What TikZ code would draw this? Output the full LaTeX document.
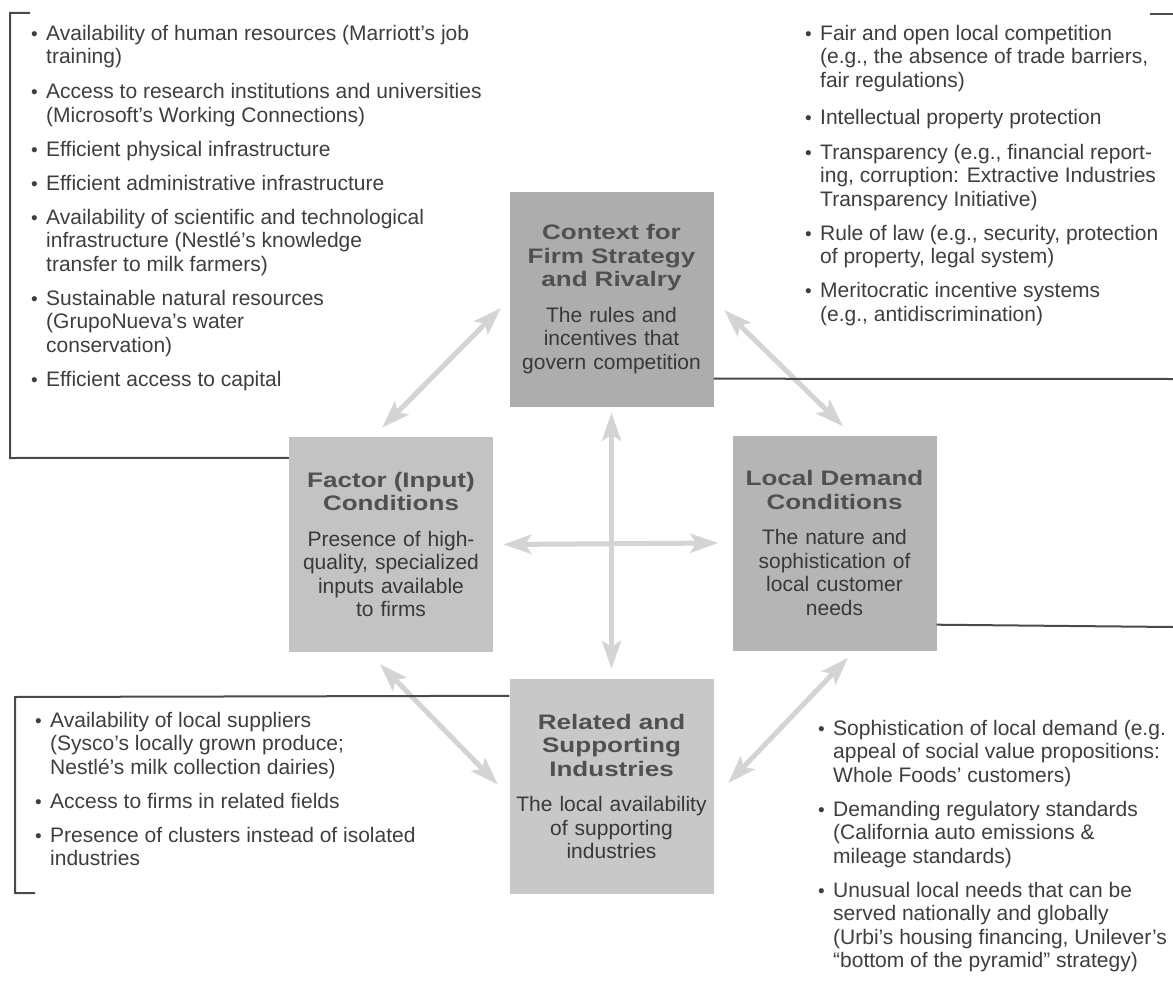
\documentclass[tikz,border=0pt]{standalone}
\usepackage{fontspec}
\setmainfont{Liberation Sans}
\newfontfamily\titlefont[FakeStretch=1.24]{Liberation Sans Bold}
\usetikzlibrary{arrows.meta}
\definecolor{brk}{HTML}{4A4A4A}
\definecolor{arrowgray}{HTML}{D4D4D4}
\definecolor{ctxfill}{HTML}{ADADAD}
\definecolor{facfill}{HTML}{C3C3C3}
\definecolor{locfill}{HTML}{B5B5B5}
\definecolor{relfill}{HTML}{C8C8C8}
\definecolor{ttlc}{HTML}{505050}
\definecolor{bodyc}{HTML}{383838}
\definecolor{listc}{HTML}{3E3E3E}
\newcommand\txtsize{\fontsize{21}{23.5}\selectfont}
\newcommand\ttl[1]{{\titlefont\color{ttlc}#1}}
\newcommand\bul{\par\noindent\hangindent=14.5pt\hangafter=1\makebox[14.5pt][l]{\hspace{-0.5pt}\raisebox{0pt}{\fontsize{19}{19}\selectfont\textbullet}}\strut\ignorespaces}
\newcommand\nbul[1][10.5pt]{\par\vspace{#1}\bul}
\newenvironment{blk}[1]{\begin{minipage}[t]{#1}\raggedright\txtsize\let\\\newline}{\end{minipage}}
\tikzset{
  box/.style={rectangle, inner sep=0pt, minimum width=204pt, minimum height=215pt,
    text width=204pt, align=center, font=\txtsize, text=bodyc},
  link/.style={draw=arrowgray, line width=5pt,
    {Stealth[length=28pt,width=19pt,inset=6pt]}-{Stealth[length=28pt,width=19pt,inset=6pt]}},
  brack/.style={draw=brk, line width=2pt},
  blist/.style={anchor=north west, inner sep=0pt, text=listc}
}
\begin{document}
\begin{tikzpicture}[x=1pt,y=-1pt]
\useasboundingbox[fill=white] (0,0) rectangle (1173,982);

% four boxes
\node[box, fill=ctxfill] (ctx) at (611.5,299)
  {\ttl{Context for\\Firm Strategy\\and Rivalry}\\[12pt]The rules and\\incentives that\\govern competition};
\node[box, fill=facfill] (fac) at (391,544.5)
  {\ttl{Factor (Input)\\Conditions}\\[12pt]Presence of high-\\quality, specialized\\inputs available\\to firms};
\node[box, fill=locfill] (loc) at (834.5,543)
  {\ttl{Local Demand\\Conditions}\\[12pt]The nature and\\sophistication of\\local customer\\needs};
\node[box, fill=relfill] (rel) at (611.5,786.5)
  {\ttl{Related and\\Supporting\\Industries}\\[12pt]The local availability\\of supporting\\industries};

% arrows
\draw[link] ([yshift=-6pt]ctx.south) -- ([yshift=10pt]rel.north);
\draw[link] ([xshift=10pt]fac.east) -- ([xshift=-14pt]loc.west);
\draw[link] ([xshift=-9pt,yshift=9pt]fac.north) -- ([xshift=-8.5pt,yshift=-9pt]ctx.west);
\draw[link] ([xshift=10.5pt,yshift=-11pt]ctx.east) -- ([xshift=8.5pt,yshift=9pt]loc.north);
\draw[link] ([xshift=-11pt,yshift=-12pt]fac.south) -- ([xshift=-11.5pt,yshift=2pt]rel.west);
\draw[link] ([xshift=14.5pt,yshift=3.5pt]rel.east) -- ([xshift=13.5pt,yshift=-7pt]loc.south);

% brackets
\coordinate (tlA) at (30,13);
\coordinate (tlB) at (10,13);
\coordinate (tlC) at (10,458);
\draw[brack] (tlA) -- (tlB) -- (tlC) -- ([yshift=-21pt]fac.north west);
\coordinate (trA) at (1150,14);
\coordinate (trB) at (1173,14);
\draw[brack] (trA) -- (trB);
\coordinate (trC) at (1173,379);
\draw[brack] ([yshift=28pt]ctx.south east) -- (trC);
\coordinate (brA) at (1173,627);
\draw[brack] ([yshift=26pt]loc.south east) -- (brA);
\coordinate (blB) at (15,697);
\coordinate (blC) at (15,893);
\coordinate (blD) at (35,893);
\draw[brack] ([yshift=-17pt]rel.north west) -- (blB) -- (blC) -- (blD);

% bullet lists
\node[blist] (tl) at (31.5,23.55) {\begin{blk}{480pt}%
\bul Availability of human resources (Marriott’s job\\training)
\nbul[11.5pt] Access to research institutions and universities\\(Microsoft’s Working Connections)
\nbul Efficient physical infrastructure
\nbul Efficient administrative infrastructure
\nbul Availability of scientific and technological\\infrastructure (Nestlé’s knowledge\\transfer to milk farmers)
\nbul Sustainable natural resources\\(GrupoNueva’s water\\conservation)
\nbul Efficient access to capital\end{blk}};

\node[blist] (tr) at (805.5,23.55) {\begin{blk}{365pt}%
\bul Fair and open local competition\\(e.g., the absence of trade barriers,\\fair regulations)
\nbul[13.5pt] Intellectual property protection
\nbul[11.5pt] Transparency (e.g., financial report-\\ing, corruption: Extractive Industries\\Transparency Initiative)
\nbul Rule of law (e.g., security, protection\\of property, legal system)
\nbul Meritocratic incentive systems\\(e.g., antidiscrimination)\end{blk}};

\node[blist] (bl) at (35.5,710.55) {\begin{blk}{440pt}%
\bul Availability of local suppliers\\(Sysco’s locally grown produce;\\Nestlé’s milk collection dairies)
\nbul Access to firms in related fields
\nbul Presence of clusters instead of isolated\\industries\end{blk}};

\node[blist] (br) at (818.5,718.55) {\begin{blk}{355pt}%
\bul Sophistication of local demand (e.g.\\appeal of social value propositions:\\Whole Foods’ customers)
\nbul Demanding regulatory standards\\(California auto emissions \&\\mileage standards)
\nbul Unusual local needs that can be\\served nationally and globally\\(Urbi’s housing financing, Unilever’s\\“bottom of the pyramid” strategy)\end{blk}};
\end{tikzpicture}
\end{document}
